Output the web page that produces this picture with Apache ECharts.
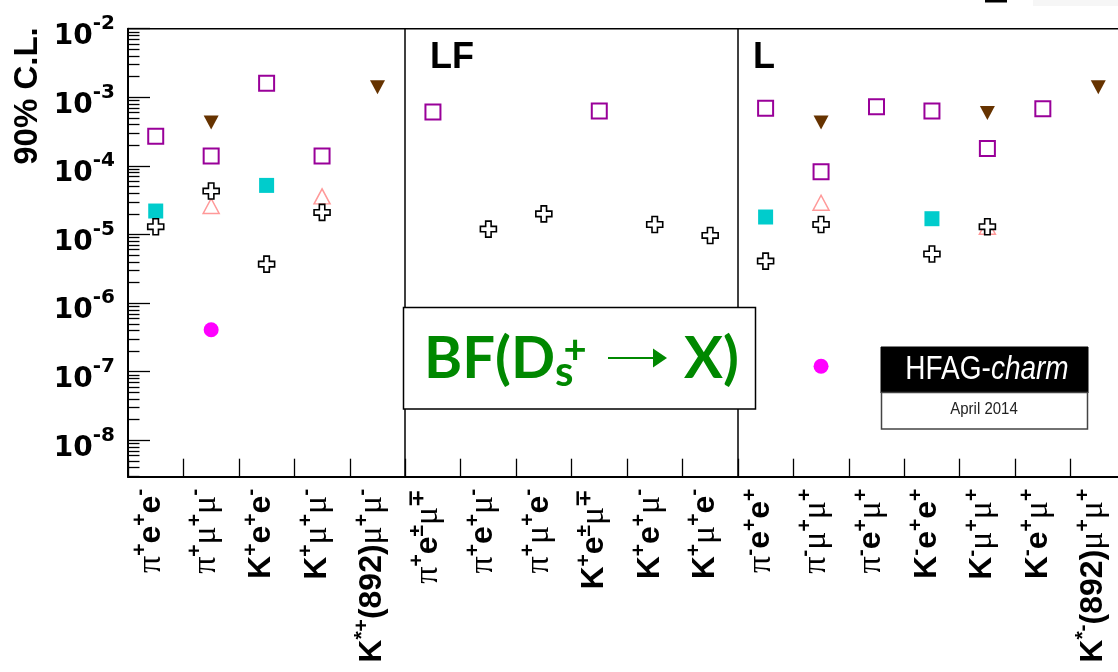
<!DOCTYPE html>
<html>
<head>
<meta charset="utf-8">
<script src="https://cdn.jsdelivr.net/npm/echarts@6/dist/echarts.min.js"></script>
<style>
  html, body { margin: 0; padding: 0; background: #fff; }
  #chart { width: 1118px; height: 672px; }
</style>
</head>
<body>
<div id="chart"></div>
<script>
// Decay channels (rich-text labels: p = pion, m = muon, b = bold sans, s = superscript)
const categories = [
  '{p|π}{s|+}{b|e}{s|+}{b|e}{s|-}',
  '{p|π}{s|+}{m|μ}{s|+}{m|μ}{s|-}',
  '{b|K}{s|+}{b|e}{s|+}{b|e}{s|-}',
  '{b|K}{s|+}{m|μ}{s|+}{m|μ}{s|-}',
  '{b|K}{s|*+}{b|(892)}{m|μ}{s|+}{m|μ}{s|-}',
  '{p|π}{s|+}{b|e}{s|±}{m|μ}{s|∓}',
  '{p|π}{s|+}{b|e}{s|+}{m|μ}{s|-}',
  '{p|π}{s|+}{m|μ}{s|+}{b|e}{s|-}',
  '{b|K}{s|+}{b|e}{s|±}{m|μ}{s|∓}',
  '{b|K}{s|+}{b|e}{s|+}{m|μ}{s|-}',
  '{b|K}{s|+}{m|μ}{s|+}{b|e}{s|-}',
  '{p|π}{s|-}{b|e}{s|+}{b|e}{s|+}',
  '{p|π}{s|-}{m|μ}{s|+}{m|μ}{s|+}',
  '{p|π}{s|-}{b|e}{s|+}{m|μ}{s|+}',
  '{b|K}{s|-}{b|e}{s|+}{b|e}{s|+}',
  '{b|K}{s|-}{m|μ}{s|+}{m|μ}{s|+}',
  '{b|K}{s|-}{b|e}{s|+}{m|μ}{s|+}',
  '{b|K}{s|*-}{b|(892)}{m|μ}{s|+}{m|μ}{s|+}'
];

// 90% C.L. upper limits on the branching fraction, one entry per channel
const openSquare    = [2.7e-4, 1.4e-4, 1.6e-3, 1.4e-4, null, 6.1e-4, null, null, 6.3e-4, null, null, 6.9e-4, 8.2e-5, 7.3e-4, 6.3e-4, 1.8e-4, 6.8e-4, null];
const downTriangle  = [null, 4.3e-4, null, null, 1.4e-3, null, null, null, null, null, null, null, 4.3e-4, null, null, 5.9e-4, null, 1.4e-3];
const openTriangle  = [null, 2.6e-5, null, 3.6e-5, null, null, null, null, null, null, null, null, 2.9e-5, null, null, 1.3e-5, null, null];
const filledSquare  = [2.2e-5, null, 5.2e-5, null, null, null, null, null, null, null, null, 1.8e-5, null, null, 1.7e-5, null, null, null];
const openCross     = [1.3e-5, 4.3e-5, 3.7e-6, 2.1e-5, null, null, 1.2e-5, 2.0e-5, null, 1.4e-5, 9.7e-6, 4.1e-6, 1.4e-5, null, 5.2e-6, 1.3e-5, null, null];
const filledCircle  = [null, 4.1e-7, null, null, null, null, null, null, null, null, null, null, 1.2e-7, null, null, null, null, null];

// Decade exponents labelled on the vertical axis
const decades = [-8, -7, -6, -5, -4, -3, -2];
const yMin = -8.53, yMax = -2;

// Minor ticks at 2..9 x 10^n (log10 positions)
const minorTicks = [];
for (let n = -9; n <= -3; n++) {
  for (let k = 2; k <= 9; k++) {
    const v = n + Math.log10(k);
    if (v >= yMin && v <= yMax) minorTicks.push(v);
  }
}

function toPoints(arr) {
  const pts = [];
  arr.forEach((v, i) => { if (v != null) pts.push([i, Math.log10(v)]); });
  return pts;
}

const crossPath = 'path://M3.3,0H6.7V3.3H10V6.7H6.7V10H3.3V6.7H0V3.3H3.3Z';

const chart = echarts.init(document.getElementById('chart'), null, { renderer: 'canvas' });

const sansBold = { fontFamily: 'Liberation Sans', fontWeight: 'bold', color: '#000' };

chart.setOption({
  animation: false,
  backgroundColor: '#fff',
  grid: {
    left: 128, top: 28.7, width: 998, height: 448,
    outerBoundsMode: 'none', containLabel: false,
    show: true, borderColor: '#000', borderWidth: 1.5, backgroundColor: 'transparent'
  },
  xAxis: {
    type: 'category',
    data: categories,
    boundaryGap: true,
    axisLine: { show: true, lineStyle: { color: '#000', width: 2 } },
    axisTick: { show: true, inside: true, length: 18, interval: 0, lineStyle: { color: '#000', width: 1.3 } },
    splitLine: {
      show: true,
      interval: function (index) { return index === 5 || index === 11; },
      lineStyle: { color: '#000', width: 1.5, type: 'solid' }
    },
    axisLabel: {
      interval: 0, rotate: 90, margin: 12, padding: [0, 0, 22, 0],
      rich: {
        b: Object.assign({ fontSize: 32, lineHeight: 30, padding: [12, 0, 0, 0] }, sansBold),
        p: { fontFamily: 'Liberation Serif', fontSize: 34, lineHeight: 30, padding: [12, 0, 0, 0], color: '#000' },
        m: { fontFamily: 'Liberation Serif', fontSize: 34, lineHeight: 30, padding: [12, 0, 0, 0], color: '#000' },
        s: Object.assign({ fontSize: 21, lineHeight: 16, verticalAlign: 'top' }, sansBold)
      }
    }
  },
  yAxis: [
    {
      type: 'value', min: yMin, max: yMax, position: 'left',
      axisLine: { show: true, lineStyle: { color: '#000', width: 2 } },
      splitLine: { show: false },
      axisTick: { show: true, inside: true, length: 22, customValues: decades, lineStyle: { color: '#000', width: 1.3 } },
      axisLabel: {
        customValues: decades, margin: 13,
        formatter: function (v) { return '{b|10}{s|' + Math.round(v) + '}'; },
        rich: {
          b: { fontFamily: 'DejaVu Sans', fontWeight: 'bold', fontSize: 28, lineHeight: 30, padding: [16, 0, 0, 0], color: '#000' },
          s: { fontFamily: 'DejaVu Sans', fontWeight: 'bold', fontSize: 20, lineHeight: 16, verticalAlign: 'top', color: '#000' }
        }
      }
    },
    {
      type: 'value', min: yMin, max: yMax, position: 'left', offset: 0,
      axisLine: { show: false },
      splitLine: { show: false },
      axisLabel: { show: false },
      axisTick: { show: true, inside: true, length: 11.5, customValues: minorTicks, lineStyle: { color: '#000', width: 1.3 } }
    }
  ],
  series: [
    {
      type: 'scatter', data: toPoints(openSquare), symbol: 'rect', symbolSize: 15,
      itemStyle: { color: '#ffffff', borderColor: '#990099', borderWidth: 2, opacity: 1 }
    },
    {
      type: 'scatter', data: toPoints(downTriangle), symbol: 'triangle', symbolRotate: 180, symbolSize: [15, 14],
      itemStyle: { color: '#663300', opacity: 1 }
    },
    {
      type: 'scatter', data: toPoints(openTriangle), symbol: 'triangle', symbolSize: [16, 15],
      itemStyle: { color: '#ffffff', borderColor: '#ff9999', borderWidth: 1.5, opacity: 1 }
    },
    {
      type: 'scatter', data: toPoints(filledSquare), symbol: 'rect', symbolSize: 15,
      itemStyle: { color: '#00cccc', opacity: 1 }
    },
    {
      type: 'scatter', data: toPoints(openCross), symbol: crossPath, symbolSize: 16,
      itemStyle: { color: '#ffffff', borderColor: '#000', borderWidth: 1.6, opacity: 1 }
    },
    {
      type: 'scatter', data: toPoints(filledCircle), symbol: 'circle', symbolSize: 15,
      itemStyle: { color: '#ff00ff', opacity: 1 }
    }
  ],
  graphic: [
    // vertical axis title
    {
      type: 'text', x: 27.5, y: 96, rotation: Math.PI / 2, z: 10,
      style: { text: '90% C.L.', align: 'center', verticalAlign: 'middle',
               font: 'bold 33px "Liberation Sans"', fill: '#000' }
    },
    // panel tags
    { type: 'text', x: 430, y: 58, z: 10,
      style: { text: 'LF', align: 'left', verticalAlign: 'middle', font: 'bold 36px "Liberation Sans"', fill: '#000' } },
    { type: 'text', x: 753, y: 58, z: 10,
      style: { text: 'L', align: 'left', verticalAlign: 'middle', font: 'bold 36px "Liberation Sans"', fill: '#000' } },
    // BF(Ds+ -> X) caption box
    { type: 'rect', z: 20, shape: { x: 403.5, y: 307.5, width: 352, height: 101.5 },
      style: { fill: '#fff', stroke: '#000', lineWidth: 1.5 } },
    { type: 'text', x: 424, y: 359, z: 21,
      style: { text: 'BF(D', align: 'left', verticalAlign: 'middle', font: 'bold 58px Lato', fill: '#008800' } },
    { type: 'text', x: 555, y: 372, z: 21,
      style: { text: 's', align: 'left', verticalAlign: 'middle', font: 'bold 42px Lato', fill: '#008800' } },
    { type: 'text', x: 575, y: 350, z: 21,
      style: { text: '+', align: 'center', verticalAlign: 'middle', font: 'bold 40px Lato', fill: '#008800' } },
    { type: 'line', z: 21, shape: { x1: 608, y1: 358, x2: 656, y2: 358 },
      style: { stroke: '#008800', lineWidth: 2.2 } },
    { type: 'polygon', z: 21, shape: { points: [[653, 348.5], [667, 358], [653, 367.5]] },
      style: { fill: '#008800' } },
    { type: 'text', x: 684, y: 359, z: 21,
      style: { text: 'X)', align: 'left', verticalAlign: 'middle', font: 'bold 58px Lato', fill: '#008800' } },
    // HFAG-charm logo
    { type: 'rect', z: 20, shape: { x: 881, y: 347, width: 207, height: 46 },
      style: { fill: '#000', stroke: '#000', lineWidth: 1 } },
    { type: 'rect', z: 20, shape: { x: 881.5, y: 392.5, width: 206, height: 36.5 },
      style: { fill: '#fff', stroke: '#444', lineWidth: 1.5 } },
    { type: 'text', x: 987, y: 370, z: 21, scaleY: 1.2,
      style: { text: '{a|HFAG-}{i|charm}', align: 'center', verticalAlign: 'middle',
               rich: {
                 a: { fontFamily: 'Liberation Sans', fontSize: 28, fill: '#fff' },
                 i: { fontFamily: 'Liberation Sans', fontStyle: 'italic', fontSize: 28, fill: '#fff' }
               } } },
    { type: 'text', x: 984, y: 409, z: 21, scaleY: 1.1,
      style: { text: 'April 2014', align: 'center', verticalAlign: 'middle',
               font: '15px "Liberation Sans"', fill: '#222' } },
    // fragment of the cut-off heading at the top edge
    { type: 'rect', z: 5, shape: { x: 985, y: 0, width: 22, height: 2.5 }, style: { fill: '#000' } },
    { type: 'rect', z: 4, shape: { x: 1033, y: 0, width: 85, height: 6 }, style: { fill: '#f6f6f6' } }
  ]
});
</script>
</body>
</html>
